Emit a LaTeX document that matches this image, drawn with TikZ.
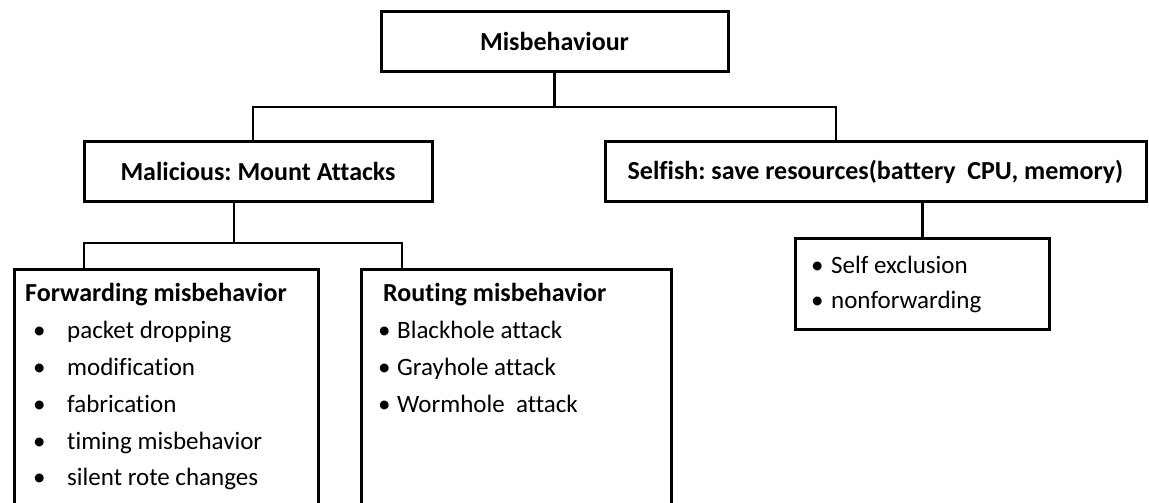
\documentclass[tikz,border=0pt]{standalone}
\usepackage{fontspec}
\setmainfont[Ligatures=NoCommon]{Carlito}
\frenchspacing
\usetikzlibrary{positioning}

\tikzset{
  catbox/.style={draw, line width=3pt, inner sep=0pt, minimum height=60pt,
    minimum width=#1, font=\fontsize{26}{30}\selectfont\bfseries},
  listbox/.style={draw, line width=3pt, inner sep=0pt, anchor=north west},
  listhead/.style={anchor=mid west, inner sep=0pt, font=\fontsize{26}{30}\selectfont\bfseries},
  listitem/.style={anchor=mid west, inner sep=0pt, font=\fontsize{25}{30}\selectfont},
  link/.style={line width=2.6pt}
}

\begin{document}
\begin{tikzpicture}[x=1pt, y=-1pt]
    \useasboundingbox (0,0) rectangle (1149,503);
    \clip (0,0) rectangle (1149,503);

    % Root
    \node[catbox=347pt] (misb) at (554.5,41.5) {Misbehaviour};

    % Two kinds
    \node[catbox=348pt] (malic) at (258,171.5) {Malicious: Mount Attacks};
    \node[catbox=541pt] (selfish) at (875.5,171.5) {Selfish: save resources(battery~ CPU, memory)};

    % Malicious branches
    \node[listbox, minimum width=304pt, minimum height=280pt] (fwd) at (13,268) {};
    \node[listhead] (fwdh) at (25,299) {Forwarding misbehavior};
    \node[listitem] (fwd1) at (33,336) {\makebox[34pt][l]{\textbullet}packet dropping};
    \node[listitem] (fwd2) at (33,373) {\makebox[34pt][l]{\textbullet}modification};
    \node[listitem] (fwd3) at (33,410) {\makebox[34pt][l]{\textbullet}fabrication};
    \node[listitem] (fwd4) at (33,447) {\makebox[34pt][l]{\textbullet}timing misbehavior};
    \node[listitem] (fwd5) at (33,483) {\makebox[34pt][l]{\textbullet}silent rote changes};

    \node[listbox, minimum width=310pt, minimum height=280pt] (rout) at (360,268) {};
    \node[listhead] (routh) at (383,299) {Routing misbehavior};
    \node[listitem] (rout1) at (378,336) {\makebox[19pt][l]{\textbullet}Blackhole attack};
    \node[listitem] (rout2) at (378,373) {\makebox[19pt][l]{\textbullet}Grayhole attack};
    \node[listitem] (rout3) at (378,410) {\makebox[19pt][l]{\textbullet}Wormhole~ attack};

    % Selfish branch
    \node[listbox, minimum width=254pt, minimum height=91pt] (selfx) at (794,237) {};
    \node[listitem] (selfx1) at (811,271) {\makebox[20pt][l]{\textbullet}Self exclusion};
    \node[listitem] (selfx2) at (811,306) {\makebox[20pt][l]{\textbullet}nonforwarding};

    % Connectors
    \coordinate (j1) at (misb.south |- 0,107);
    \coordinate (j2) at ([xshift=-24pt]malic.south |- 0,243);
    \draw[link] (misb.south) -- (j1);
    \draw[link] ([xshift=-5pt]malic.north) |- (j1) -| ([xshift=-39.5pt]selfish.north);
    \draw[link] ([xshift=-24pt]malic.south) -- (j2);
    \draw[link] ([xshift=71pt]fwd.north west) |- (j2) -| ([xshift=42pt]rout.north west);
    \draw[link] (selfish.south -| selfx.north) -- (selfx.north);
\end{tikzpicture}
\end{document}
